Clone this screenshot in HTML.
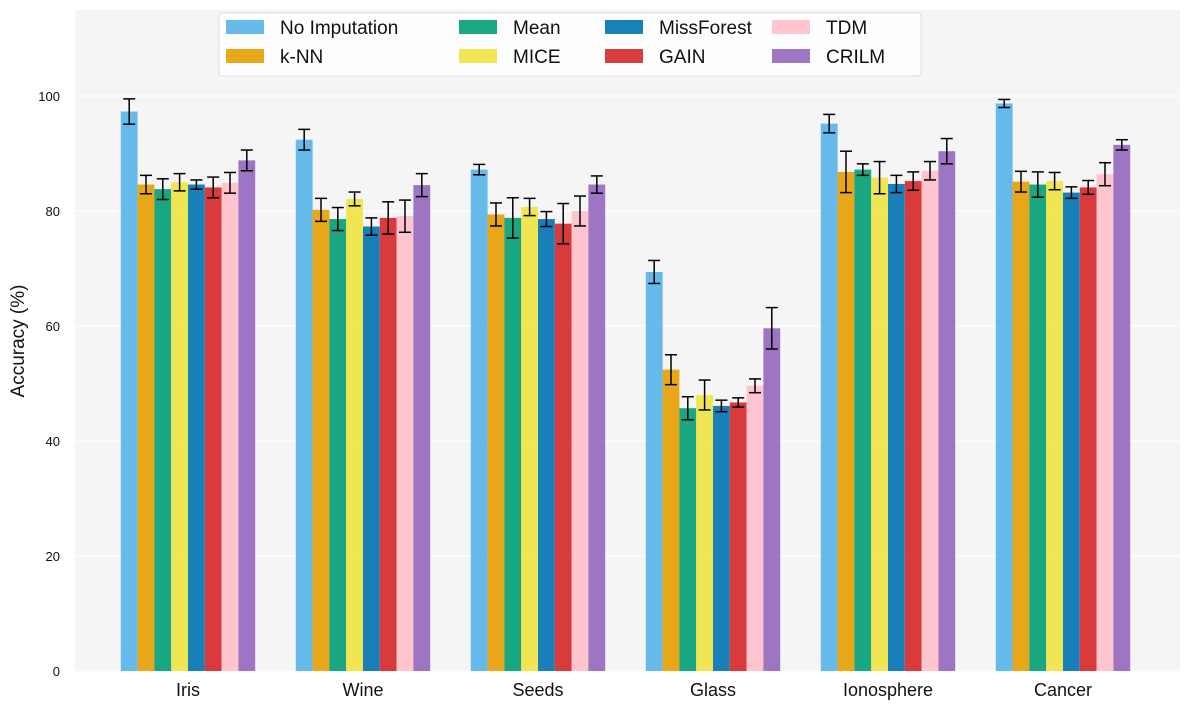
<!DOCTYPE html>
<html><head><meta charset="utf-8"><style>
body{margin:0;background:#fff;font-family:"Liberation Sans","DejaVu Sans",sans-serif}
svg{display:block}
</style></head><body>
<svg id="chart" width="1189" height="710">
<rect x="75" y="10" width="1105" height="662" fill="#f5f5f5"/>
<g id="grid"></g><g id="bars"></g><g id="errs"></g><g id="axes"></g>
<text x="24" y="341" font-size="19" text-anchor="middle" transform="rotate(-90 24 341)" fill="#111">Accuracy (%)</text>
<g id="legend"></g>
</svg>
<script>
const categories=["Iris","Wine","Seeds","Glass","Ionosphere","Cancer"];
const methods=["No Imputation","k-NN","Mean","MICE","MissForest","GAIN","TDM","CRILM"];
const colors=["#56B4E9","#E69F00","#009E73","#F0E442","#0072B2","#D62728","#FFC0CB","#9467BD"];
const vNoImp=[97.3,92.4,87.2,69.4,95.2,98.7];
const vKNN=[84.6,80.2,79.4,52.4,86.8,85.1];
const vMean=[83.8,78.6,78.8,45.7,87.2,84.6];
const vMICE=[85.0,82.1,80.7,48.0,85.8,85.2];
const vMF=[84.6,77.3,78.6,46.1,84.7,83.2];
const vGAIN=[84.1,78.8,77.8,46.7,85.2,84.1];
const vTDM=[84.9,79.1,80.0,49.6,87.0,86.4];
const vCRILM=[88.8,84.5,84.6,59.6,90.4,91.5];
const eNoImp=[2.2,1.8,0.9,2.0,1.6,0.7];
const eKNN=[1.6,2.0,2.0,2.6,3.6,1.8];
const eMean=[1.8,2.0,3.5,2.0,1.0,2.2];
const eMICE=[1.5,1.2,1.5,2.6,2.8,1.5];
const eMF=[0.8,1.5,1.3,1.0,1.5,1.0];
const eGAIN=[1.8,2.8,3.5,0.8,1.6,1.2];
const eTDM=[1.8,2.8,2.6,1.2,1.6,2.0];
const eCRILM=[1.8,2.0,1.5,3.6,2.2,0.9];
const yTicks=[0,20,40,60,80,100];
const series=[vNoImp,vKNN,vMean,vMICE,vMF,vGAIN,vTDM,vCRILM];
const errs=[eNoImp,eKNN,eMean,eMICE,eMF,eGAIN,eTDM,eCRILM];
const NS="http://www.w3.org/2000/svg";
function mk(t,a,p){const e=document.createElementNS(NS,t);for(const k in a)e.setAttribute(k,a[k]);p.appendChild(e);return e;}
const y=v=>671-v*5.75;
const x0=188, gap=175, bw=16.8;
const xc=(c,m)=>x0+c*gap+(m-3.5)*bw;
const grid=document.getElementById('grid'),axes=document.getElementById('axes'),bars=document.getElementById('bars'),eg=document.getElementById('errs');
yTicks.forEach(t=>{
 const l=mk('line',{x1:75,x2:1180,y1:y(t),y2:y(t),stroke:'#fff','stroke-width':1.2},grid);
 
 
 const tx=mk('text',{x:60,y:y(t)+5,'font-size':13,'text-anchor':'end',fill:'#111'},axes);tx.textContent=t;
 
 
});
categories.forEach((c,ci)=>{
 const tx=mk('text',{x:x0+ci*gap,y:696,'font-size':18,'text-anchor':'middle',fill:'#111'},axes);tx.textContent=c;
 
 
 series.forEach((s,mi)=>{
  const v=s[ci],cx=xc(ci,mi);
  const r=mk('rect',{x:cx-bw/2,y:y(v),width:bw,height:y(0)-y(v),fill:colors[mi],'fill-opacity':0.9},bars);
  
  
  const e=errs[mi][ci],g=mk('g',{stroke:'#000','stroke-width':1.5},eg);
  
  
  mk('line',{x1:cx,x2:cx,y1:y(v-e),y2:y(v+e)},g);
  mk('line',{x1:cx-6,x2:cx+6,y1:y(v-e),y2:y(v-e)},g);
  mk('line',{x1:cx-6,x2:cx+6,y1:y(v+e),y2:y(v+e)},g);
 });
});
const lg=document.getElementById('legend');


mk('rect',{x:219,y:13,width:702,height:63,rx:3,fill:'#fff','fill-opacity':0.85,stroke:'#ddd'},lg);
const colX=[226,459,605,772];
methods.forEach((m,i)=>{
 const col=Math.floor(i/2),row=i%2,lx=colX[col],ly=20+row*29;
 const g=mk('g',{},lg);
 
 
 mk('rect',{x:lx,y:ly,width:38,height:14,fill:colors[i],'fill-opacity':0.9},g);
 const t=mk('text',{x:lx+54,y:ly+14,'font-size':19,fill:'#111'},g);t.textContent=m;
});
</script>
</body></html>
